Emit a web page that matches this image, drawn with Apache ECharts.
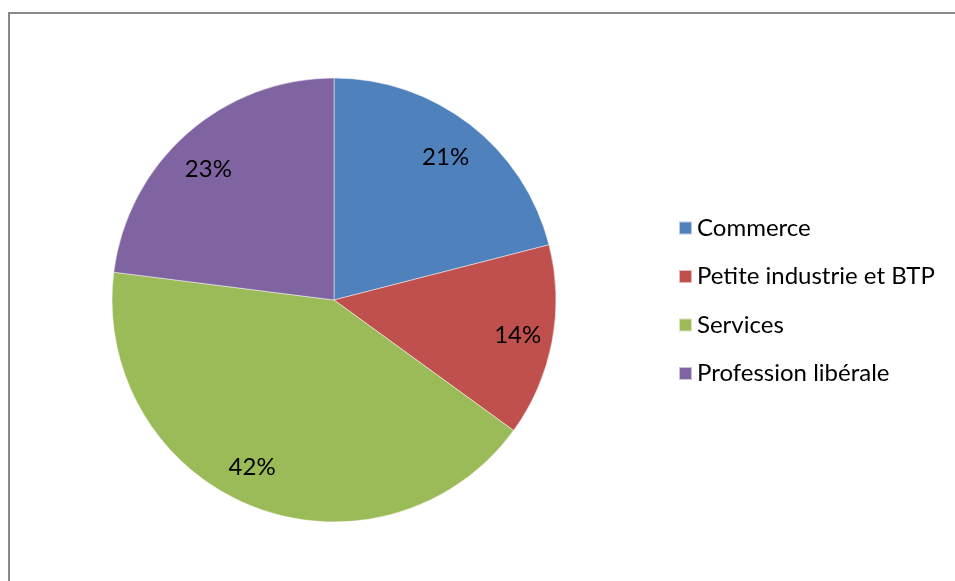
<!DOCTYPE html>
<html>
<head>
<meta charset="utf-8">
<title>Répartition par secteur</title>
<script src="https://cdn.jsdelivr.net/npm/echarts@6/dist/echarts.min.js"></script>
<style>
  html, body { margin: 0; padding: 0; background: #fff; }
  #chart { width: 955px; height: 581px; }
</style>
</head>
<body>
<div id="chart"></div>
<script>
// Sectors and their shares (percent)
const categories = ['Commerce', 'Petite industrie et BTP', 'Services', 'Profession libérale'];
const shares = [21, 14, 42, 23];
const colors = ['#4F81BD', '#C0504D', '#9BBB59', '#8064A2'];

const FONT = 'Lato, "Open Sans", sans-serif';
const CX = 334, CY = 300, R = 222;
// small nudges so each percentage sits nicely inside its slice
const labelNudge = [[-3, 5], [0, 0], [-13, -7], [-2, 10]];

const pieData = categories.map((name, i) => ({ name, value: shares[i] }));
const labelData = categories.map((name, i) => ({
  name, value: shares[i], label: { offset: labelNudge[i] }
}));

const chart = echarts.init(document.getElementById('chart'), null, { renderer: 'canvas' });

chart.setOption({
  backgroundColor: '#ffffff',
  animation: false,
  color: colors,
  graphic: [{
    type: 'rect',
    shape: { x: 9, y: 13, width: 1000, height: 1000 },
    style: { fill: 'none', stroke: '#898989', lineWidth: 2 },
    silent: true,
    z: -10
  }],
  legend: {
    orient: 'vertical',
    left: 673,
    top: 209,
    itemWidth: 13,
    itemHeight: 13,
    itemGap: 20.5,
    icon: 'rect',
    data: categories,
    selectedMode: false,
    textStyle: {
      fontFamily: FONT,
      fontSize: 24,
      lineHeight: 28,
      color: '#000',
      padding: 0
    }
  },
  series: [
    {
      // the pie itself
      type: 'pie',
      center: [CX, CY],
      radius: [0, R],
      startAngle: 90,
      clockwise: true,
      data: pieData,
      label: { show: false },
      labelLine: { show: false },
      itemStyle: { borderColor: 'rgba(255,255,255,0.6)', borderWidth: 0.8 },
      emphasis: { disabled: true }
    },
    {
      // transparent ring that carries the percentage labels near the rim
      type: 'pie',
      center: [CX, CY],
      radius: [146, R],
      startAngle: 90,
      clockwise: true,
      silent: true,
      data: labelData,
      itemStyle: { color: 'rgba(0,0,0,0)' },
      label: {
        show: true,
        position: 'inside',
        formatter: p => p.value + '%',
        fontFamily: FONT,
        fontSize: 24,
        color: '#000'
      },
      labelLine: { show: false },
      emphasis: { disabled: true }
    }
  ]
});
</script>
</body>
</html>
